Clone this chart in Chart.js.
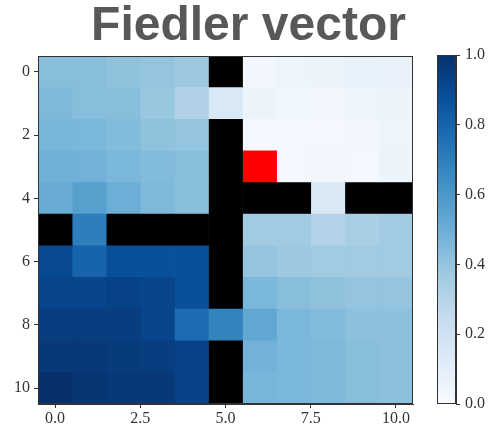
<!DOCTYPE html>
<html>
<head>
<meta charset="utf-8">
<script src="https://cdn.jsdelivr.net/npm/chart.js@4"></script>
<style>
  html, body { margin: 0; padding: 0; background: #fff; }
  body { width: 497px; height: 431px; position: relative; overflow: hidden; }
  #mainWrap { position: absolute; left: 0; top: 0; width: 497px; height: 431px; }
  #barWrap { position: absolute; left: 430px; top: 0; width: 67px; height: 431px; }
</style>
</head>
<body>
<div id="mainWrap"><canvas id="heatChart"></canvas></div>
<div id="barWrap"><canvas id="colorBar"></canvas></div>
<script>
// rows top to bottom, columns left to right; null = black cell
let rowLabels = ['0', '1', '2', '3', '4', '5', '6', '7', '8', '9', '10'];
let xTicks = [0, 2.5, 5, 7.5, 10];
let barTicks = [0, 0.2, 0.4, 0.6, 0.8, 1.0];
let redCell = [3, 6]; // [row, col]

let values = [
    [0.43, 0.43, 0.41, 0.40, 0.38, null, 0.03, 0.05, 0.06, 0.08, 0.07],
    [0.45, 0.43, 0.43, 0.39, 0.32, 0.15, 0.06, 0.04, 0.03, 0.05, 0.06],
    [0.47, 0.46, 0.44, 0.41, 0.40, null, 0.02, 0.02, 0.02, 0.03, 0.05],
    [0.49, 0.48, 0.46, 0.44, 0.43, null, 0.00, 0.02, 0.03, 0.02, 0.06],
    [0.51, 0.56, 0.50, 0.45, 0.43, null, null, null, 0.15, null, null],
    [null, 0.70, null, null, null, null, 0.37, 0.37, 0.31, 0.34, 0.37],
    [0.90, 0.80, 0.88, 0.88, 0.88, null, 0.40, 0.38, 0.37, 0.37, 0.37],
    [0.92, 0.92, 0.93, 0.92, 0.88, null, 0.46, 0.43, 0.41, 0.40, 0.40],
    [0.95, 0.95, 0.95, 0.92, 0.77, 0.68, 0.53, 0.46, 0.44, 0.42, 0.42],
    [0.97, 0.97, 0.96, 0.95, 0.93, null, 0.48, 0.46, 0.45, 0.43, 0.42],
    [1.00, 0.98, 0.97, 0.97, 0.93, null, 0.47, 0.46, 0.45, 0.43, 0.42]
];

// matplotlib Blues
const blues = ['#f7fbff', '#deebf7', '#c6dbef', '#9ecae1', '#6baed6', '#4292c6', '#2171b5', '#08519c', '#08306b'];

function hexToRgb(h) {
    return [parseInt(h.slice(1, 3), 16), parseInt(h.slice(3, 5), 16), parseInt(h.slice(5, 7), 16)];
}

function bluesColor(v) {
    v = Math.max(0, Math.min(1, v));
    let pos = v * (blues.length - 1);
    let i = Math.min(Math.floor(pos), blues.length - 2);
    let t = pos - i;
    let a = hexToRgb(blues[i]);
    let b = hexToRgb(blues[i + 1]);
    let c = a.map((x, k) => Math.round(x + (b[k] - x) * t));
    return 'rgb(' + c.join(',') + ')';
}

function cellColor(r, c) {
    if (r === redCell[0] && c === redCell[1]) return '#ff0000';
    let v = values[r][c];
    if (v === null) return '#000000';
    return bluesColor(v);
}

const tickFont = { family: 'Liberation Serif', size: 16 };
const frameColor = '#333';

// one floating-bar dataset per column
let datasets = [];
for (let c = 0; c < values[0].length; c++) {
    datasets.push({
        data: rowLabels.map(() => [c - 0.5, c + 0.5]),
        backgroundColor: rowLabels.map((_, r) => cellColor(r, c)),
        borderWidth: 0,
        barPercentage: 1,
        categoryPercentage: 1,
        grouped: false
    });
}

new Chart('heatChart', {
    type: 'bar',
    data: { labels: rowLabels, datasets: datasets },
    options: {
        indexAxis: 'y',
        responsive: true,
        maintainAspectRatio: false,
        animation: false,
        layout: { padding: 0 },
        plugins: {
            legend: { display: false },
            tooltip: { enabled: false },
            title: {
                display: true,
                text: 'Fiedler vector',
                color: '#585858',
                font: { family: 'Liberation Sans', size: 48, weight: 'bold', lineHeight: 1.0 },
                padding: { top: 3, bottom: 5 }
            }
        },
        scales: {
            x: {
                type: 'linear',
                min: -0.5,
                max: 10.5,
                afterBuildTicks: axis => { axis.ticks = xTicks.map(v => ({ value: v })); },
                afterFit: s => { s.height = 27; },
                ticks: {
                    color: '#333',
                    font: tickFont,
                    padding: 1,
                    maxRotation: 0,
                    callback: v => v.toFixed(1)
                },
                grid: { drawOnChartArea: false, drawTicks: true, tickLength: 4, color: frameColor },
                border: { color: frameColor }
            },
            y: {
                type: 'category',
                afterFit: s => { s.width = 38; },
                ticks: {
                    color: '#333',
                    font: tickFont,
                    padding: 4,
                    autoSkip: false,
                    callback: function (v, i) { return i % 2 === 0 ? rowLabels[i] : ''; }
                },
                grid: {
                    drawOnChartArea: false,
                    drawTicks: true,
                    tickLength: 4,
                    offset: false,
                    color: ctx => (ctx.index % 2 === 0 ? frameColor : 'rgba(0,0,0,0)')
                },
                border: { color: frameColor }
            },
            // empty axis that keeps room for the colour bar
            spacer: {
                type: 'linear',
                position: 'right',
                afterFit: s => { s.width = 84; },
                ticks: { display: false },
                grid: { display: false },
                border: { display: false }
            }
        }
    },
    plugins: [{
        id: 'frame',
        afterDraw(chart) {
            let a = chart.chartArea;
            let ctx = chart.ctx;
            ctx.save();
            ctx.strokeStyle = frameColor;
            ctx.lineWidth = 1;
            ctx.strokeRect(a.left + 0.5, a.top + 0.5, a.right - a.left - 1, a.bottom - a.top - 1);
            ctx.restore();
        }
    }]
});

new Chart('colorBar', {
    type: 'bar',
    data: {
        labels: [''],
        datasets: [{
            data: [[0, 1]],
            barPercentage: 1,
            categoryPercentage: 1,
            borderWidth: 0,
            backgroundColor: ctx => {
                let a = ctx.chart.chartArea;
                if (!a) return blues[4];
                let g = ctx.chart.ctx.createLinearGradient(0, a.bottom, 0, a.top);
                blues.forEach((col, i) => g.addColorStop(i / (blues.length - 1), col));
                return g;
            }
        }]
    },
    options: {
        responsive: true,
        maintainAspectRatio: false,
        animation: false,
        layout: { padding: { top: 55, left: 7, right: 0, bottom: 27 } },
        plugins: { legend: { display: false }, tooltip: { enabled: false } },
        scales: {
            x: { display: false },
            y: {
                position: 'right',
                min: 0,
                max: 1,
                afterBuildTicks: axis => { axis.ticks = barTicks.map(v => ({ value: v })); },
                afterFit: s => { s.width = 41; },
                ticks: { color: '#333', font: tickFont, padding: 5, callback: v => v.toFixed(1) },
                grid: { drawOnChartArea: false, drawTicks: true, tickLength: 4, color: frameColor },
                border: { color: frameColor }
            }
        }
    },
    plugins: [{
        id: 'frame',
        afterDraw(chart) {
            let a = chart.chartArea;
            let ctx = chart.ctx;
            ctx.save();
            ctx.strokeStyle = frameColor;
            ctx.lineWidth = 1;
            ctx.strokeRect(a.left + 0.5, a.top + 0.5, a.right - a.left - 1, a.bottom - a.top - 1);
            ctx.restore();
        }
    }]
});
</script>
</body>
</html>
